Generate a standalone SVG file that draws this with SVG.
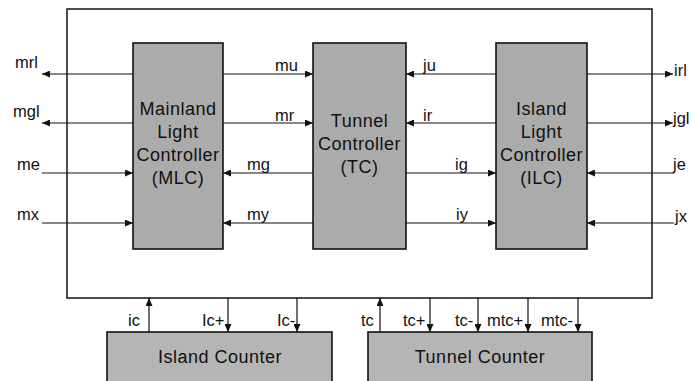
<svg xmlns="http://www.w3.org/2000/svg" width="691" height="381" viewBox="0 0 691 381">
<style>
  .box { fill: #ababab; stroke: #111; stroke-width: 1.6; }
  .cbox { fill: #b5b5b5; stroke: #111; stroke-width: 1.6; }
  .frame { fill: #fff; stroke: #111; stroke-width: 1.5; }
  .big { font-family: "Liberation Sans", Arial, sans-serif; font-size: 18px; letter-spacing: 0.5px; fill: #111; text-anchor: middle; }
  .lbl { font-family: "Liberation Sans", Arial, sans-serif; font-size: 16.5px; fill: #111; }
  .wire { stroke: #111; stroke-width: 1.2; fill: none; marker-end: url(#arr); }
</style>
<defs>
  <marker id="arr" markerUnits="userSpaceOnUse" markerWidth="9" markerHeight="7" refX="8" refY="3.5" orient="auto">
    <path d="M0,0 L8,3.5 L0,7 z" fill="#111"/>
  </marker>
</defs>
<rect width="691" height="381" fill="#fff"/>
<g id="system">
  <rect class="frame" x="67" y="9" width="585" height="289"/>
</g>
<g id="mlc">
  <rect class="box" x="133" y="43" width="90" height="206"/>
  <text class="big" x="178" y="115">Mainland</text>
  <text class="big" x="178" y="138">Light</text>
  <text class="big" x="178" y="161">Controller</text>
  <text class="big" x="178" y="184">(MLC)</text>
</g>
<g id="tc">
  <rect class="box" x="313" y="43" width="93" height="206"/>
  <text class="big" x="359.5" y="127">Tunnel</text>
  <text class="big" x="359.5" y="150">Controller</text>
  <text class="big" x="359.5" y="173">(TC)</text>
</g>
<g id="ilc">
  <rect class="box" x="496" y="43" width="91" height="206"/>
  <text class="big" x="541.5" y="115">Island</text>
  <text class="big" x="541.5" y="138">Light</text>
  <text class="big" x="541.5" y="161">Controller</text>
  <text class="big" x="541.5" y="184">(ILC)</text>
</g>
<g id="island-counter">
  <rect class="cbox" x="107" y="332" width="225" height="60"/>
  <text class="big" x="220" y="363">Island Counter</text>
</g>
<g id="tunnel-counter">
  <rect class="cbox" x="368" y="332" width="224" height="60"/>
  <text class="big" x="480" y="363">Tunnel Counter</text>
</g>
<g id="connectors">
  <line class="wire" x1="133" y1="74" x2="42" y2="74"/>
  <line class="wire" x1="133" y1="123" x2="42" y2="123"/>
  <line class="wire" x1="42" y1="173" x2="133" y2="173"/>
  <line class="wire" x1="42" y1="223" x2="133" y2="223"/>
  <line class="wire" x1="223" y1="74" x2="313" y2="74"/>
  <line class="wire" x1="223" y1="123" x2="313" y2="123"/>
  <line class="wire" x1="313" y1="173" x2="223" y2="173"/>
  <line class="wire" x1="313" y1="223" x2="223" y2="223"/>
  <line class="wire" x1="496" y1="74" x2="406" y2="74"/>
  <line class="wire" x1="496" y1="123" x2="406" y2="123"/>
  <line class="wire" x1="406" y1="173" x2="496" y2="173"/>
  <line class="wire" x1="406" y1="223" x2="496" y2="223"/>
  <line class="wire" x1="587" y1="74" x2="673" y2="74"/>
  <line class="wire" x1="587" y1="123" x2="673" y2="123"/>
  <line class="wire" x1="674" y1="173" x2="587" y2="173"/>
  <line class="wire" x1="674" y1="223" x2="587" y2="223"/>
  <line class="wire" x1="149" y1="332" x2="149" y2="298"/>
  <line class="wire" x1="228" y1="298" x2="228" y2="332"/>
  <line class="wire" x1="297" y1="298" x2="297" y2="332"/>
  <line class="wire" x1="380" y1="332" x2="380" y2="298"/>
  <line class="wire" x1="430" y1="298" x2="430" y2="332"/>
  <line class="wire" x1="478" y1="298" x2="478" y2="332"/>
  <line class="wire" x1="528" y1="298" x2="528" y2="332"/>
  <line class="wire" x1="578" y1="298" x2="578" y2="332"/>
</g>
<g id="labels">
  <text class="lbl" x="15" y="68">mrl</text>
  <text class="lbl" x="13" y="117">mgl</text>
  <text class="lbl" x="17" y="170">me</text>
  <text class="lbl" x="17" y="220">mx</text>
  <text class="lbl" x="275" y="71">mu</text>
  <text class="lbl" x="275" y="121">mr</text>
  <text class="lbl" x="247" y="170">mg</text>
  <text class="lbl" x="247" y="220">my</text>
  <text class="lbl" x="423" y="71">ju</text>
  <text class="lbl" x="423" y="121">ir</text>
  <text class="lbl" x="455" y="170">ig</text>
  <text class="lbl" x="456" y="220">iy</text>
  <text class="lbl" x="674" y="76">irl</text>
  <text class="lbl" x="673" y="124">jgl</text>
  <text class="lbl" x="673" y="170">je</text>
  <text class="lbl" x="675" y="222">jx</text>
  <text class="lbl" x="128" y="326">ic</text>
  <text class="lbl" x="202" y="326">Ic+</text>
  <text class="lbl" x="277" y="326">Ic-</text>
  <text class="lbl" x="361" y="326">tc</text>
  <text class="lbl" x="403" y="326">tc+</text>
  <text class="lbl" x="455" y="326">tc-</text>
  <text class="lbl" x="487" y="326">mtc+</text>
  <text class="lbl" x="541" y="326">mtc-</text>
</g>
</svg>
